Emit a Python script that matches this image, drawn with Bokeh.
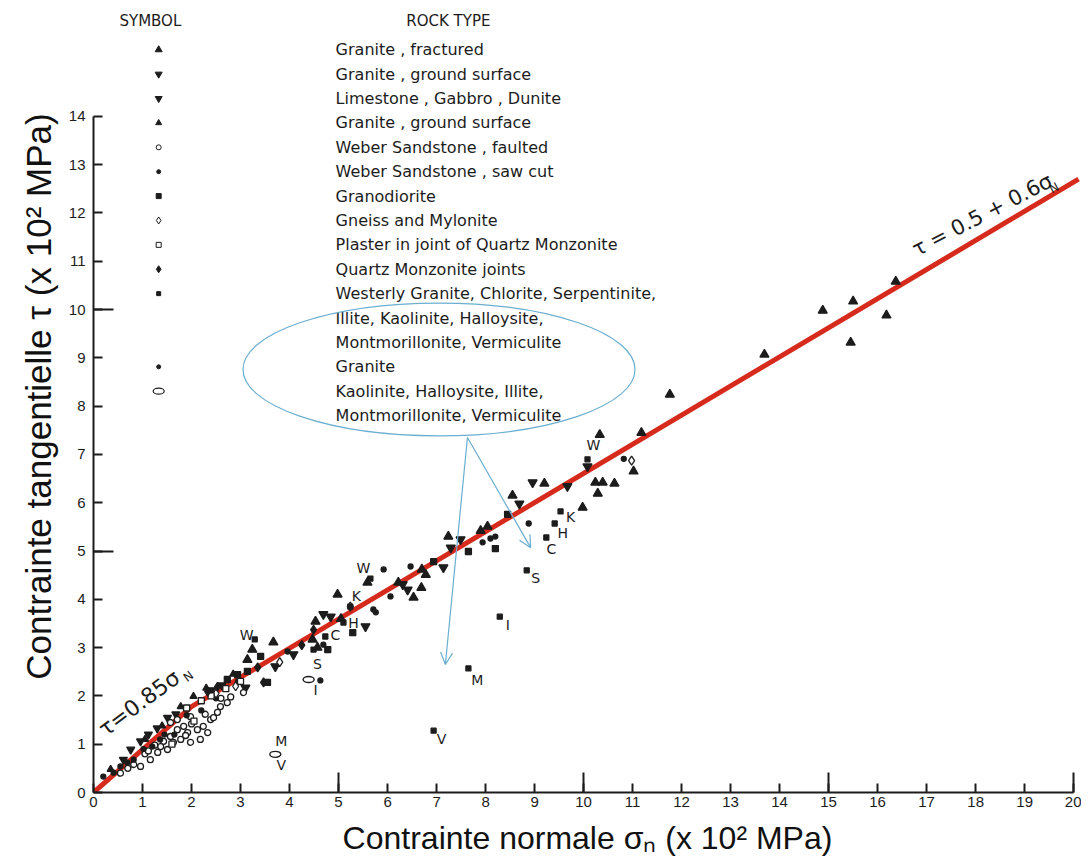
from bokeh.plotting import figure
from bokeh.models import Range1d, FixedTicker, Arrow, OpenHead
from bokeh.core.properties import value
from bokeh.embed import file_html
from bokeh.resources import INLINE

FONT = "Liberation Sans"
LFONT = "DejaVu Sans"

# ---------------- data ----------------
# Granite, fractured (filled up-triangles)
g1_x = [16.37, 15.50, 14.88, 16.18, 15.45, 13.69, 11.76, 10.33, 11.18, 11.02, 10.24, 10.39,
        10.63, 10.29, 9.98, 9.20, 8.55, 7.24, 8.04, 6.78, 6.69, 6.53, 6.22, 5.59, 4.98,
        4.53, 4.57, 4.47, 3.67, 3.24, 3.14, 6.70, 7.90, 5.05]
g1_y = [10.58, 10.17, 9.98, 9.88, 9.32, 9.07, 8.24, 7.41, 7.45, 6.65, 6.42, 6.42,
        6.40, 6.19, 5.90, 6.40, 6.15, 5.30, 5.51, 4.51, 4.24, 4.04, 4.35, 4.35, 4.10,
        3.54, 3.00, 3.17, 3.11, 2.96, 2.75, 4.62, 5.42, 3.60]
# Granite, ground surface (filled down-triangles)
g2_x = [10.08, 8.96, 9.67, 8.69, 7.49, 7.14, 7.29, 6.31, 6.41, 5.55, 4.84, 4.69, 4.08, 3.71, 3.10]
g2_y = [6.75, 6.42, 6.34, 5.98, 5.24, 4.66, 5.07, 4.31, 4.20, 3.44, 3.64, 3.69, 2.86, 2.61, 2.17]
# Limestone, Gabbro, Dunite (down-triangles, low stress)
g3_x = [0.61, 0.76, 0.96, 1.12, 1.30, 1.51, 1.68, 2.40, 2.62]
g3_y = [0.68, 0.89, 1.06, 1.20, 1.33, 1.55, 1.62, 2.12, 2.22]
# Granite, ground surface (small up-triangles)
g4_x = [0.35, 1.05, 1.40, 1.78, 2.04, 2.30, 2.85]
g4_y = [0.48, 1.10, 1.38, 1.78, 1.99, 2.16, 2.45]
# Weber Sandstone, faulted (small open circles)
g5_x = [0.96, 1.16, 1.31, 1.51, 1.63, 1.78, 1.92, 1.98, 2.12, 2.24, 2.18, 2.33, 2.39, 2.53,
        2.59, 2.73, 1.84, 1.71, 1.57, 1.43, 1.37, 1.98, 1.71, 1.57, 0.82, 1.05, 1.25, 2.00,
        2.45, 2.60, 2.80, 3.06, 0.55, 0.70, 1.12, 2.28, 1.88]
g5_y = [0.54, 0.68, 0.83, 0.89, 1.04, 1.10, 1.24, 1.04, 1.30, 1.37, 1.10, 1.24, 1.51, 1.66,
        1.78, 1.86, 1.37, 1.30, 1.16, 1.06, 0.95, 1.57, 1.51, 1.45, 0.58, 0.80, 0.98, 1.42,
        1.55, 1.95, 1.98, 2.07, 0.40, 0.50, 0.86, 1.62, 1.18]
# Weber Sandstone, saw cut (small filled circles)
g6_x = [0.20, 0.41, 0.55, 0.69, 0.82, 1.20, 1.45, 1.65, 1.90, 2.20, 1.02, 1.36, 2.50, 2.95]
g6_y = [0.33, 0.41, 0.54, 0.62, 0.68, 0.95, 1.20, 1.20, 1.60, 1.70, 0.90, 1.10, 1.95, 2.30]
# Granodiorite (filled squares)
g7_x = [3.55, 7.65, 8.45, 5.29, 4.78, 6.94, 2.73, 2.94, 3.14, 3.41, 8.20]
g7_y = [2.28, 4.99, 5.76, 3.31, 2.96, 4.78, 2.34, 2.44, 2.51, 2.82, 5.05]
# Gneiss and Mylonite (open diamonds)
g8_x = [5.24, 10.98, 2.90, 2.50, 3.80]
g8_y = [3.85, 6.87, 2.20, 2.05, 2.70]
# Plaster in joint of Quartz Monzonite (open squares)
g9_x = [2.20, 2.40, 2.70, 3.00, 1.90, 1.60, 2.05]
g9_y = [1.90, 2.00, 2.15, 2.30, 1.75, 1.00, 1.48]
# Quartz Monzonite joints (filled diamonds)
g10_x = [3.35, 3.47, 4.49, 2.33, 2.53, 4.25]
g10_y = [2.59, 2.28, 3.37, 2.09, 2.19, 3.05]
# Westerly Granite + clay gouges (small squares, lettered)
g11_x = [3.29, 4.49, 4.73, 5.10, 5.24, 5.65, 7.65, 6.94, 8.29, 8.84, 9.24, 9.41, 9.53, 10.08]
g11_y = [3.17, 2.96, 3.23, 3.52, 3.85, 4.43, 2.57, 1.28, 3.64, 4.60, 5.28, 5.57, 5.82, 6.90]
g11_lab = ["W", "S", "C", "H", "K", "W", "M", "V", "I", "S", "C", "H", "K", "W"]
g11_dx = [-8, 4, 10, 10, 6, -7, 9, 8, 8, 9, 5, 8, 10, 6]
g11_dy = [-4, 14, -2, 0, -11, -11, 12, 8, 8, 8, 11, 9, 6, -14]
# Granite (small filled dots)
g12_x = [7.94, 8.10, 8.20, 8.88, 10.82, 5.71, 5.76, 6.06, 5.92, 6.47, 4.69, 3.96, 4.63]
g12_y = [5.18, 5.26, 5.30, 5.57, 6.91, 3.79, 3.73, 4.06, 4.62, 4.68, 3.06, 2.92, 2.32]
# Kaolinite, Halloysite, Illite, Montmorillonite, Vermiculite (open ovals)
g13_x = [4.39, 3.71]
g13_y = [2.34, 0.79]
g13_lab = ["I", "M", "V"]
g13_lx = [4.39, 3.71, 3.71]
g13_ly = [2.34, 0.79, 0.79]
g13_dx = [7, 6, 6]
g13_dy = [11, -13, 11]

# Byerlee's law (red line)
line_x = [0.0, 2.0, 20.1]
line_y = [0.0, 1.78, 12.70]

x_ticks = list(range(0, 21))
y_ticks = list(range(0, 15))

rock_lines = [
    "Granite , fractured",
    "Granite , ground surface",
    "Limestone , Gabbro , Dunite",
    "Granite , ground surface",
    "Weber Sandstone , faulted",
    "Weber Sandstone , saw cut",
    "Granodiorite",
    "Gneiss and Mylonite",
    "Plaster in joint of Quartz Monzonite",
    "Quartz Monzonite joints",
    "Westerly Granite, Chlorite, Serpentinite,",
    "Illite, Kaolinite, Halloysite,",
    "Montmorillonite, Vermiculite",
    "Granite",
    "Kaolinite, Halloysite, Illite,",
    "Montmorillonite, Vermiculite",
]
sym_rows = [0, 1, 2, 3, 4, 5, 6, 7, 8, 9, 10, 13, 14]

# ---------------- figure ----------------
p = figure(width=1081, height=862, x_range=Range1d(0, 20.16), y_range=Range1d(0, 16.4),
           output_backend="svg", toolbar_location=None,
           min_border_left=93, min_border_bottom=70, min_border_top=0, min_border_right=0)
p.grid.visible = False
p.outline_line_color = None
p.background_fill_color = "white"
p.border_fill_color = "white"

INK = "#1c1c1c"

xa = p.xaxis[0]
xa.ticker = FixedTicker(ticks=x_ticks, minor_ticks=[5, 10, 15, 20])
xa.bounds = (0, 20)
ya = p.yaxis[0]
ya.ticker = FixedTicker(ticks=y_ticks, minor_ticks=[5, 10])
ya.bounds = (0, 14)
for ax in (xa, ya):
    ax.axis_line_width = 2
    ax.axis_line_color = INK
    ax.major_tick_in = 9
    ax.major_tick_out = 0
    ax.minor_tick_in = 20
    ax.minor_tick_out = 0
    ax.major_tick_line_width = 2
    ax.minor_tick_line_width = 2
    ax.major_tick_line_color = INK
    ax.minor_tick_line_color = INK
    ax.major_label_text_font = FONT
    ax.major_label_text_font_size = "15px"
    ax.major_label_text_color = INK
    ax.axis_label_text_font = FONT
    ax.axis_label_text_font_style = "normal"
    ax.axis_label_text_color = "#111111"
xa.axis_label_text_font_size = "32px"
ya.axis_label_text_font_size = "35px"
xa.major_label_standoff = 4
xa.axis_label_standoff = 10
ya.major_label_standoff = 8
ya.axis_label_standoff = 8
xa.axis_label = "Contrainte normale σₙ (x 10² MPa)"
ya.axis_label = "Contrainte tangentielle τ (x 10² MPa)"

# red Byerlee line
p.line(line_x, line_y, line_width=5, color="#d62a1c")

def pts(x, y, marker, size, filled=True, lw=1.3):
    p.scatter(x, y, marker=marker, size=size, line_color=INK, line_width=lw,
              fill_color=INK if filled else "white")

pts(g1_x, g1_y, "triangle", 9)
pts(g2_x, g2_y, "inverted_triangle", 9)
pts(g3_x, g3_y, "inverted_triangle", 8)
pts(g4_x, g4_y, "triangle", 7)
pts(g5_x, g5_y, "circle", 6, filled=False)
pts(g6_x, g6_y, "circle", 5)
pts(g7_x, g7_y, "square", 6)
pts(g8_x, g8_y, "diamond", 9, filled=False)
pts(g9_x, g9_y, "square", 6, filled=False)
pts(g10_x, g10_y, "diamond", 9)
pts(g11_x, g11_y, "square", 5)
pts(g12_x, g12_y, "circle", 5)
p.ellipse(g13_x, g13_y, width=11, height=6, width_units="screen", height_units="screen",
          fill_color="white", line_color=INK, line_width=1.4)

p.text(g11_x, g11_y, text=g11_lab, x_offset=g11_dx, y_offset=g11_dy,
       text_font=value(LFONT), text_font_size="14px", text_color=INK,
       text_align="center", text_baseline="middle")
p.text(g13_lx, g13_ly, text=g13_lab, x_offset=g13_dx, y_offset=g13_dy,
       text_font=value(LFONT), text_font_size="14px", text_color=INK,
       text_align="center", text_baseline="middle")

# equation annotations
p.text([16.85], [11.00], text=["τ = 0.5 + 0.6σ"], angle=0.48, text_font=value(LFONT),
       text_font_size="21px", text_color=INK, text_baseline="bottom", text_align="left")
p.text([19.60], [12.52], text=["N"], angle=0.48, text_font=value(LFONT),
       text_font_size="12px", text_color=INK, text_baseline="middle", text_align="center")
p.text([0.31], [1.06], text=["τ=0.85σ"], angle=0.64, text_font=value(LFONT),
       text_font_size="22px", text_color=INK, text_baseline="bottom", text_align="left")
p.text([1.94], [2.40], text=["N"], angle=0.64, text_font=value(LFONT),
       text_font_size="12px", text_color=INK, text_baseline="middle", text_align="center")

# legend (SYMBOL / ROCK TYPE) in the upper-left corner
top_y = 15.38
step = 0.505
sym_x = 1.33
txt_x = 4.94
p.text([1.16, 7.29], [15.98, 15.98], text=["SYMBOL", "ROCK  TYPE"], text_font=value(LFONT),
       text_font_size="15px", text_color=INK, text_align="center", text_baseline="middle")
p.text([txt_x] * len(rock_lines), [top_y - i * step for i in range(len(rock_lines))],
       text=rock_lines, text_font=value(LFONT), text_font_size="16px", text_color=INK,
       text_align="left", text_baseline="middle")
sym_specs = [("triangle", 7, True), ("inverted_triangle", 7, True), ("inverted_triangle", 7, True),
             ("triangle", 6, True), ("circle", 5, False), ("circle", 4, True), ("square", 5, True),
             ("diamond", 7, False), ("square", 5, False), ("diamond", 7, True), ("square", 4, True),
             ("circle", 4, True)]
for (mk, sz, fl), r in zip(sym_specs, sym_rows):
    pts([sym_x], [top_y - r * step], mk, sz, filled=fl, lw=1)
p.ellipse([sym_x], [top_y - sym_rows[-1] * step], width=11, height=6, width_units="screen",
          height_units="screen", fill_color="white", line_color=INK, line_width=1.2)

# hand-drawn blue annotation: ellipse and two arrows
BLUE = "#6aaed0"
p.ellipse([7.05], [8.76], width=[8.0], height=[2.75], fill_color=None, line_color=BLUE,
          line_width=1.2)
p.add_layout(Arrow(end=OpenHead(size=12, line_color=BLUE, line_width=1.2),
                   x_start=7.63, y_start=7.35, x_end=7.18, y_end=2.65,
                   line_color=BLUE, line_width=1.2))
p.add_layout(Arrow(end=OpenHead(size=12, line_color=BLUE, line_width=1.2),
                   x_start=7.63, y_start=7.35, x_end=8.92, y_end=5.07,
                   line_color=BLUE, line_width=1.2))

open("out.html", "w").write(file_html(p, INLINE))
